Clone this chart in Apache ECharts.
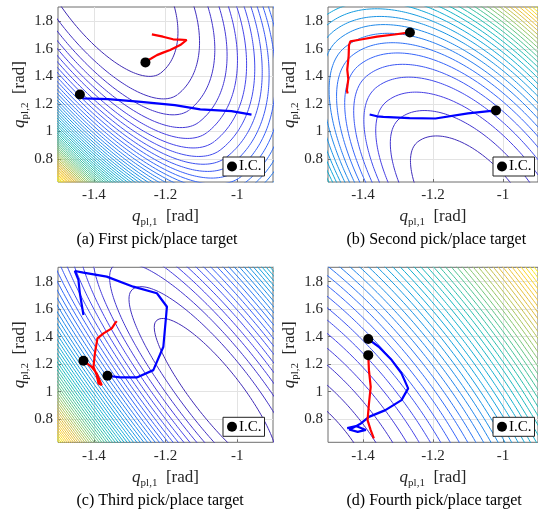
<!DOCTYPE html>
<html><head><meta charset="utf-8">
<script src="https://cdn.jsdelivr.net/npm/echarts@6/dist/echarts.min.js"></script>
<style>html,body{margin:0;padding:0;background:#fff}#c{width:538px;height:522px}</style>
</head><body><div id="c"></div>
<script>
// ---- axes ----
const xRange = [-1.5, -0.9];
const yRange = [0.632, 1.905];
const xTicks = [-1.4, -1.2, -1];
const yTicks = [0.8, 1, 1.2, 1.4, 1.6, 1.8];
const captions = ['(a) First pick/place target', '(b) Second pick/place target',
                  '(c) Third pick/place target', '(d) Fourth pick/place target'];

// ---- cost surface per panel ----
const costCentre = [[-1.383, 1.992], [-1.081, 0.378], [-1.061, 0.975], [-1.542, 0.487]]; // minimiser
const costAxis   = [0.46, 0.442, 0.442, 0.442];     // long half-axis at level 1 (fraction of plot width)
const costWidthUp   = [0.354, 0.286, 0.154, 0.257]; // short half-axis, upper-right side (fraction of plot height)
const costWidthDown = [0.217, 0.217, 0.126, 0.257]; // short half-axis, lower-left side
const costPower  = [1.42, 1.27, 1.0, 1.0];
const costAngleDeg = 52;   // tilt of long axis on screen (down to the right)
const levelStep = 1;

// ---- trajectories (q_pl,1, q_pl,2) ----
const redA = [[-1.257,1.507],[-1.240,1.530],[-1.224,1.555],[-1.205,1.575],[-1.187,1.592],[-1.159,1.628],[-1.141,1.665],[-1.160,1.668],[-1.179,1.670],[-1.207,1.689],[-1.238,1.706]];
const blueA = [[-1.439,1.269],[-1.430,1.240],[-1.360,1.235],[-1.268,1.215],[-1.174,1.191],[-1.103,1.160],[-1.016,1.148],[-0.960,1.122]];
const icA = [[-1.256,1.502],[-1.439,1.269]];

const redB = [[-1.266,1.720],[-1.31,1.705],[-1.36,1.689],[-1.41,1.667],[-1.436,1.655],[-1.440,1.628],[-1.441,1.55],[-1.445,1.45],[-1.442,1.38],[-1.446,1.30],[-1.444,1.276]];
const blueB = [[-1.020,1.153],[-1.100,1.131],[-1.193,1.094],[-1.267,1.096],[-1.342,1.106],[-1.360,1.110],[-1.381,1.123]];
const icB = [[-1.266,1.720],[-1.020,1.153]];

const redC = [[-1.429,1.225],[-1.406,1.181],[-1.392,1.133],[-1.378,1.048],[-1.387,1.060],[-1.392,1.121],[-1.401,1.181],[-1.397,1.279],[-1.390,1.388],[-1.373,1.424],[-1.350,1.461],[-1.341,1.497],[-1.336,1.514]];
const blueC = [[-1.362,1.116],[-1.327,1.104],[-1.280,1.104],[-1.234,1.157],[-1.206,1.327],[-1.196,1.618],[-1.224,1.716],[-1.290,1.764],[-1.364,1.837],[-1.429,1.866],[-1.453,1.878],[-1.443,1.813],[-1.439,1.716],[-1.429,1.558]];
const icC = [[-1.429,1.225],[-1.362,1.116]];

const redD = [[-1.385,1.266],[-1.383,1.157],[-1.378,1.035],[-1.383,0.914],[-1.387,0.793],[-1.378,0.720],[-1.369,0.660]];
const blueD = [[-1.385,1.383],[-1.355,1.327],[-1.318,1.230],[-1.290,1.133],[-1.271,1.024],[-1.290,0.939],[-1.336,0.866],[-1.383,0.817],[-1.406,0.769],[-1.430,0.735],[-1.445,0.735],[-1.420,0.750],[-1.392,0.722],[-1.415,0.708],[-1.440,0.725]];
const icD = [[-1.385,1.383],[-1.385,1.266]];

const reds = [redA, redB, redC, redD];
const blues = [blueA, blueB, blueC, blueD];
const ics = [icA, icB, icC, icD];

// ---- layout ----
const panelPos = [[58, 7], [328, 7], [58, 267.3], [328, 267.3]];
const PW = 215, PH = 175;
const SERIF = '"Liberation Serif", "DejaVu Serif", serif';
const TXT = '#262626';

// parula-like colormap
const parula = ['#3E26A8','#4640E6','#3566FA','#1E8CE8','#10A8D8','#18BBB8','#50C490','#A0C660','#E0BC3C','#FCCE2E','#F8FA12'];
function hex2rgb(h){return [parseInt(h.substr(1,2),16),parseInt(h.substr(3,2),16),parseInt(h.substr(5,2),16)];}
function cmap(t){
  t = Math.max(0, Math.min(1, t));
  const n = parula.length - 1, f = t * n, i = Math.min(n - 1, Math.floor(f)), r = f - i;
  const a = hex2rgb(parula[i]), b = hex2rgb(parula[i + 1]);
  return 'rgb(' + a.map((v, k) => Math.round(v + (b[k] - v) * r)).join(',') + ')';
}

// plot-fraction space scaled to the plot box (X right, Y down)
const SX = PW, SY = PH;
const th = costAngleDeg * Math.PI / 180;
const eu = [Math.cos(th), Math.sin(th)];   // long axis (down-right)
const ev = [Math.sin(th), -Math.cos(th)];  // short axis (up-right)
function toP(x, y){ return [(x - xRange[0]) / (xRange[1] - xRange[0]) * SX, (yRange[1] - y) / (yRange[1] - yRange[0]) * SY]; }
function toD(X, Y){ return [xRange[0] + X / SX * (xRange[1] - xRange[0]), yRange[1] - Y / SY * (yRange[1] - yRange[0])]; }
function cost(p, x, y){
  const c = toP(costCentre[p][0], costCentre[p][1]), P = toP(x, y);
  const dx = P[0] - c[0], dy = P[1] - c[1];
  const u = dx*eu[0] + dy*eu[1], v = dx*ev[0] + dy*ev[1];
  const a = costAxis[p] * SX, b = (v >= 0 ? costWidthUp[p] : costWidthDown[p]) * SY;
  return Math.pow((u/a)*(u/a) + (v/b)*(v/b), costPower[p]);
}

function contourSeries(p){
  const out = [];
  let fmin = Infinity, fmax = -Infinity;
  const G = 200;
  for (let i = 0; i <= G; i++) for (let j = 0; j <= G; j++){
    const x = xRange[0] + (xRange[1]-xRange[0])*i/G, y = yRange[0] + (yRange[1]-yRange[0])*j/G;
    const f = cost(p, x, y);
    if (f < fmin) fmin = f; if (f > fmax) fmax = f;
  }
  const c = toP(costCentre[p][0], costCentre[p][1]);
  const a = costAxis[p] * SX, bu = costWidthUp[p] * SY, bd = costWidthDown[p] * SY;
  for (let L = Math.floor(fmin/levelStep + 1) * levelStep; L < fmax; L += levelStep){
    const s = Math.sqrt(Math.pow(L, 1/costPower[p]));
    const pts = [];
    const M = 1000;
    for (let k = 0; k <= M; k++){
      const t = 2*Math.PI*k/M, ct = Math.cos(t), st = Math.sin(t);
      const b = st >= 0 ? bu : bd;
      const X = c[0] + s*(a*ct*eu[0] + b*st*ev[0]);
      const Y = c[1] + s*(a*ct*eu[1] + b*st*ev[1]);
      pts.push(toD(X, Y));
    }
    out.push({type:'line', xAxisIndex:p, yAxisIndex:p, data:pts, symbol:'none', silent:true,
      clip:true, z:2, lineStyle:{width:1, color:cmap((L - fmin)/(fmax - fmin))}, animation:false});
  }
  return out;
}

const grids = [], xAxes = [], yAxes = [], series = [], legends = [], graphics = [];
const nameRich = {q:{fontFamily:SERIF, fontStyle:'italic', fontSize:17, color:TXT, lineHeight:22},
                  s:{fontFamily:SERIF, fontSize:11, color:TXT, verticalAlign:'bottom', lineHeight:12},
                  r:{fontFamily:SERIF, fontSize:17, color:TXT, lineHeight:22}};
for (let p = 0; p < 4; p++){
  const [L, T] = panelPos[p];
  grids.push({left:L, top:T, width:PW, height:PH, show:true, borderColor:'#6e6e6e', borderWidth:1, backgroundColor:'#fff'});
  xAxes.push({type:'value', gridIndex:p, min:xRange[0], max:xRange[1],
    name:'{q|q}{s|pl,1}{r|  [rad]}', nameLocation:'middle', nameGap:24, nameTextStyle:{rich:nameRich},
    axisLine:{show:false}, axisTick:{show:true, inside:true, length:3, customValues:xTicks, lineStyle:{color:'#6e6e6e'}},
    axisLabel:{customValues:xTicks, fontFamily:SERIF, fontSize:15, color:TXT, margin:6},
    splitLine:{show:true, lineStyle:{color:'#e3e3e3', width:1}}});
  yAxes.push({type:'value', gridIndex:p, min:yRange[0], max:yRange[1],
    name:'{q|q}{s|pl,2}{r|  [rad]}', nameLocation:'middle', nameGap:27, nameRotate:90, nameTextStyle:{rich:nameRich},
    axisLine:{show:false}, axisTick:{show:true, inside:true, length:3, customValues:yTicks, lineStyle:{color:'#6e6e6e'}},
    axisLabel:{customValues:yTicks, fontFamily:SERIF, fontSize:15, color:TXT, margin:5},
    splitLine:{show:true, lineStyle:{color:'#e3e3e3', width:1}}});
  series.push(...contourSeries(p));
  series.push({type:'line', xAxisIndex:p, yAxisIndex:p, data:blues[p], symbol:'none', z:5, silent:true,
    lineStyle:{color:'#0000ff', width:2.2}, animation:false});
  series.push({type:'line', xAxisIndex:p, yAxisIndex:p, data:reds[p], symbol:'none', z:5, silent:true,
    lineStyle:{color:'#ff0000', width:2.2}, animation:false});
  series.push({type:'scatter', name:'I.C.', xAxisIndex:p, yAxisIndex:p, data:ics[p], symbol:'circle', symbolSize:10, z:6,
    itemStyle:{color:'#000', opacity:1}, animation:false});
  legends.push({data:['I.C.'], left:L + 165, top:T + 150, orient:'horizontal', icon:'circle', itemWidth:10, itemHeight:10,
    itemGap:0, padding:[2,3,2,4], borderColor:'#222', borderWidth:1, backgroundColor:'#fff', borderRadius:0, z:10,
    selectedMode:false, itemStyle:{color:'#000', opacity:1},
    textStyle:{fontFamily:SERIF, fontSize:15, color:'#000', padding:[0,0,0,-3]}});
  graphics.push({type:'text', left: L + PW/2 - 89, top: T + 225, style:{text:captions[p], font:'16px ' + SERIF, fill:'#000'}});
}

const chart = echarts.init(document.getElementById('c'), null, {renderer:'canvas', width:538, height:522});
chart.setOption({animation:false, backgroundColor:'#fff', grid:grids, xAxis:xAxes, yAxis:yAxes, series:series, legend:legends, graphic:graphics});
</script></body></html>
